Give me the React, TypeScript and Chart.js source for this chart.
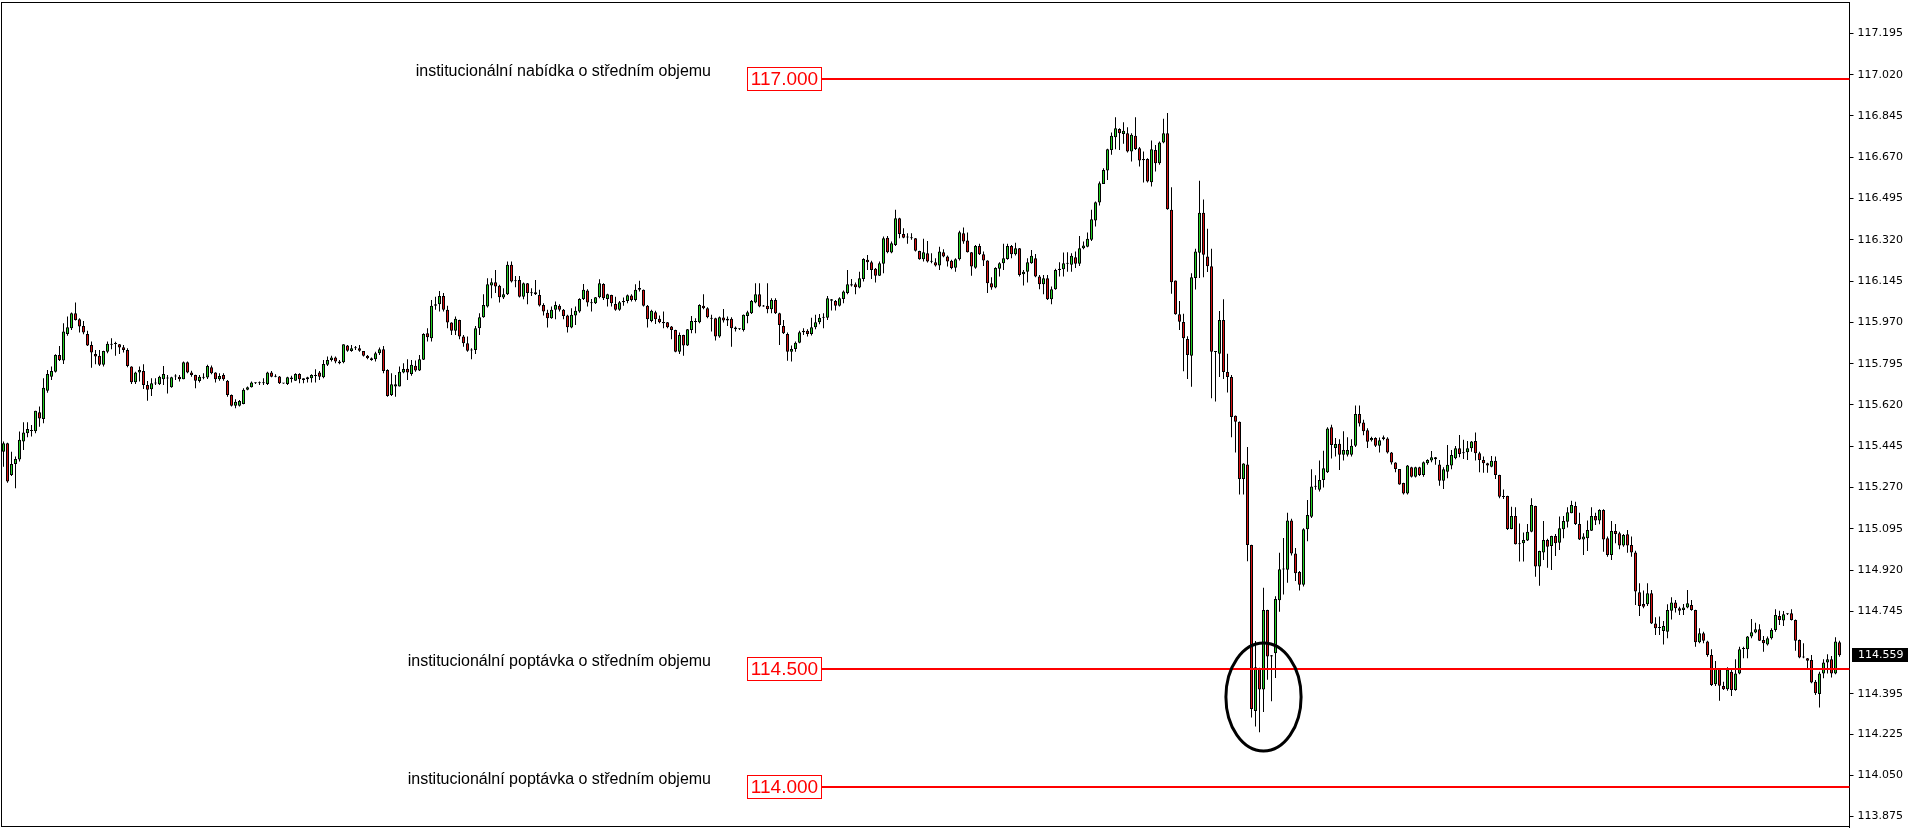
import React, { useEffect, useRef } from "react";
import { Chart, registerables } from "chart.js";

Chart.register(...registerables);

const OPEN = [
115.422,115.458,115.323,115.370,115.389,115.465,115.500,115.510,115.508,115.589,
115.560,115.680,115.740,115.761,115.832,115.808,115.921,115.945,116.009,115.983,
115.955,115.921,115.874,115.836,115.828,115.790,115.846,115.875,115.878,115.877,
115.865,115.853,115.783,115.716,115.758,115.764,115.705,115.687,115.711,115.708,
115.729,115.734,115.695,115.741,115.740,115.729,115.801,115.758,115.747,115.722,
115.735,115.736,115.780,115.758,115.729,115.747,115.723,115.662,115.617,115.617,
115.624,115.684,115.695,115.712,115.712,115.712,115.709,115.758,115.744,115.741,
115.712,115.709,115.730,115.723,115.751,115.733,115.729,115.733,115.743,115.757,
115.737,115.790,115.811,115.821,115.797,115.801,115.872,115.849,115.860,115.860,
115.849,115.829,115.818,115.814,115.839,115.856,115.768,115.662,115.698,115.698,
115.758,115.773,115.751,115.786,115.766,115.812,115.924,115.903,116.040,116.047,
116.082,116.023,115.969,115.935,115.980,115.910,115.881,115.851,115.853,115.945,
115.992,116.037,116.126,116.140,116.125,116.075,116.089,116.214,116.144,116.150,
116.079,116.136,116.098,116.098,116.086,116.044,116.011,115.987,116.023,116.040,
116.023,115.999,115.948,115.999,116.016,116.069,116.105,116.055,116.051,116.077,
116.133,116.069,116.086,116.048,116.023,116.055,116.061,116.084,116.065,116.108,
116.108,116.040,115.976,116.013,115.985,115.972,115.971,115.952,115.938,115.846,
115.917,115.872,115.938,115.975,115.971,116.040,116.030,115.990,115.987,115.910,
115.991,115.985,115.985,115.948,115.941,115.938,115.997,116.009,116.054,116.089,
116.040,116.040,116.026,116.065,116.009,115.955,115.921,115.846,115.857,115.884,
115.928,115.935,115.921,115.949,115.971,115.990,115.990,116.068,116.061,116.040,
116.069,116.094,116.132,116.132,116.118,116.154,116.235,116.225,116.197,116.168,
116.218,116.329,116.266,116.298,116.411,116.345,116.331,116.328,116.327,116.273,
116.238,116.263,116.229,116.225,116.211,116.267,116.249,116.231,116.202,116.238,
116.348,116.317,116.267,116.202,116.294,116.259,116.232,116.136,116.118,116.197,
116.221,116.239,116.294,116.259,116.284,116.174,116.185,116.221,116.242,116.164,
116.132,116.157,116.068,116.110,116.192,116.195,116.219,116.214,116.246,116.218,
116.284,116.291,116.320,116.402,116.478,116.557,116.614,116.701,116.755,116.790,
116.768,116.772,116.694,116.761,116.708,116.657,116.662,116.564,116.701,116.645,
116.732,116.772,116.447,116.147,116.004,115.972,115.900,115.829,116.158,116.265,
116.435,116.249,116.208,115.846,115.837,115.980,115.760,115.738,115.574,115.549,
115.306,115.368,115.026,114.323,114.505,114.414,114.751,114.559,114.567,114.792,
114.923,114.921,115.130,114.990,114.912,114.858,115.093,115.146,115.273,115.261,
115.302,115.335,115.525,115.437,115.455,115.409,115.409,115.409,115.447,115.582,
115.546,115.513,115.470,115.480,115.447,115.476,115.478,115.418,115.376,115.348,
115.289,115.245,115.356,115.316,115.356,115.323,115.373,115.384,115.398,115.368,
115.299,115.337,115.363,115.394,115.436,115.415,115.419,115.436,115.467,115.415,
115.387,115.373,115.358,115.383,115.323,115.232,115.234,115.094,115.149,115.030,
115.034,115.045,115.083,115.192,114.935,114.995,115.048,115.022,115.065,115.036,
115.093,115.125,115.161,115.192,115.115,115.050,115.055,115.087,115.149,115.130,
115.175,115.055,114.984,115.086,115.076,115.024,115.072,115.026,114.995,114.826,
114.776,114.775,114.822,114.694,114.677,114.662,114.659,114.748,114.783,114.758,
114.751,114.761,114.772,114.751,114.614,114.652,114.617,114.560,114.436,114.504,
114.429,114.415,114.489,114.412,114.482,114.586,114.584,114.638,114.655,114.669,
114.624,114.605,114.631,114.666,114.725,114.706,114.733,114.737,114.708,114.624,
114.551,114.546,114.539,114.447,114.395,114.482,114.528,114.542,114.482,114.614
];

const HIGH = [
115.465,115.460,115.422,115.401,115.507,115.547,115.547,115.535,115.595,115.613,
115.733,115.768,115.783,115.835,115.870,115.966,115.995,116.012,116.054,115.987,
115.976,115.934,115.889,115.853,115.853,115.850,115.889,115.903,115.888,115.878,
115.874,115.860,115.784,115.761,115.783,115.792,115.722,115.733,115.733,115.744,
115.785,115.747,115.740,115.750,115.747,115.804,115.804,115.765,115.748,115.747,
115.754,115.790,115.787,115.759,115.754,115.754,115.726,115.664,115.644,115.641,
115.691,115.698,115.719,115.716,115.719,115.733,115.761,115.764,115.750,115.743,
115.713,115.740,115.744,115.754,115.754,115.733,115.740,115.750,115.771,115.764,
115.811,115.825,115.828,115.825,115.811,115.877,115.874,115.874,115.870,115.874,
115.849,115.832,115.821,115.846,115.863,115.870,115.771,115.754,115.747,115.783,
115.797,115.814,115.811,115.808,115.832,115.924,115.945,116.065,116.079,116.103,
116.094,116.040,115.970,115.995,115.981,115.917,115.910,115.860,115.955,116.009,
116.089,116.157,116.157,116.192,116.129,116.115,116.228,116.228,116.167,116.167,
116.139,116.137,116.115,116.150,116.108,116.051,116.023,116.037,116.058,116.047,
116.027,116.002,116.030,116.037,116.072,116.133,116.110,116.069,116.078,116.153,
116.136,116.091,116.087,116.079,116.061,116.075,116.088,116.089,116.132,116.146,
116.109,116.044,116.023,116.019,115.999,116.016,115.972,115.955,115.939,115.927,
115.918,115.942,115.997,115.987,116.047,116.089,116.034,116.002,115.990,115.995,
116.027,115.995,115.992,115.952,115.945,116.003,116.019,116.065,116.136,116.136,
116.044,116.136,116.072,116.072,116.011,115.980,115.927,115.872,115.889,115.934,
115.945,115.941,115.990,116.002,116.006,116.009,116.082,116.069,116.065,116.077,
116.105,116.192,116.154,116.139,116.185,116.242,116.256,116.231,116.200,116.228,
116.334,116.336,116.313,116.447,116.414,116.369,116.348,116.348,116.328,116.274,
116.324,116.315,116.263,116.242,116.291,116.280,116.253,116.235,116.242,116.358,
116.372,116.351,116.268,116.298,116.303,116.270,116.233,116.161,116.204,116.225,
116.303,116.303,116.298,116.308,116.285,116.192,116.242,116.277,116.260,116.171,
116.171,116.171,116.122,116.197,116.225,116.266,116.267,116.263,116.270,116.336,
116.313,116.351,116.447,116.482,116.567,116.623,116.706,116.775,116.840,116.793,
116.818,116.797,116.772,116.840,116.713,116.694,116.666,116.741,116.722,116.737,
116.833,116.857,116.543,116.148,116.061,116.007,115.911,116.178,116.282,116.570,
116.491,116.367,116.282,115.848,116.018,116.068,115.837,115.747,115.575,115.550,
115.373,115.442,115.027,114.619,114.506,114.845,114.752,114.560,114.809,114.993,
115.056,115.163,115.138,115.014,114.916,115.097,115.217,115.347,115.322,115.385,
115.426,115.525,115.536,115.480,115.475,115.508,115.483,115.475,115.618,115.618,
115.557,115.521,115.485,115.483,115.482,115.490,115.483,115.421,115.377,115.349,
115.290,115.365,115.358,115.358,115.358,115.380,115.390,115.425,115.399,115.387,
115.356,115.450,115.429,115.446,115.493,115.472,115.467,115.467,115.503,115.422,
115.401,115.375,115.404,115.401,115.324,115.262,115.235,115.189,115.186,115.118,
115.079,115.115,115.224,115.193,115.002,115.128,115.053,115.066,115.073,115.147,
115.149,115.186,115.214,115.210,115.163,115.076,115.130,115.186,115.163,115.178,
115.178,115.062,115.128,115.115,115.083,115.073,115.090,115.062,115.002,114.864,
114.833,114.864,114.836,114.720,114.723,114.704,114.775,114.805,114.793,114.765,
114.776,114.836,114.793,114.752,114.673,114.659,114.621,114.584,114.535,114.505,
114.447,114.508,114.504,114.542,114.595,114.595,114.641,114.713,114.697,114.690,
114.641,114.638,114.673,114.754,114.748,114.747,114.737,114.754,114.711,114.626,
114.610,114.547,114.560,114.454,114.489,114.542,114.563,114.556,114.635,114.621
];

const LOW = [
115.358,115.290,115.319,115.267,115.380,115.429,115.483,115.486,115.500,115.528,
115.542,115.672,115.726,115.757,115.806,115.794,115.913,115.938,115.978,115.927,
115.920,115.870,115.778,115.792,115.785,115.783,115.839,115.856,115.828,115.836,
115.842,115.780,115.709,115.709,115.719,115.688,115.638,115.658,115.705,115.705,
115.705,115.669,115.693,115.726,115.719,115.729,115.754,115.740,115.691,115.715,
115.729,115.730,115.750,115.715,115.723,115.723,115.655,115.613,115.606,115.613,
115.623,115.682,115.694,115.709,115.705,115.705,115.705,115.737,115.737,115.709,
115.710,115.705,115.715,115.722,115.712,115.712,115.715,115.715,115.715,115.726,
115.733,115.785,115.804,115.797,115.793,115.797,115.846,115.846,115.853,115.846,
115.825,115.814,115.807,115.804,115.832,115.754,115.655,115.658,115.655,115.698,
115.754,115.726,115.744,115.761,115.764,115.811,115.889,115.889,116.023,116.016,
116.016,115.945,115.917,115.917,115.898,115.867,115.846,115.814,115.836,115.917,
115.990,116.033,116.072,116.094,116.054,116.069,116.086,116.139,116.119,116.075,
116.068,116.047,116.082,116.086,116.037,115.999,115.948,115.985,115.983,116.016,
115.983,115.927,115.945,115.959,116.011,116.065,116.037,116.016,116.048,116.072,
116.065,116.037,116.037,116.019,116.019,116.040,116.051,116.058,116.058,116.101,
116.037,115.948,115.971,115.963,115.966,115.945,115.945,115.898,115.843,115.836,
115.829,115.870,115.924,115.924,115.966,116.026,115.987,115.931,115.893,115.905,
115.969,115.955,115.867,115.931,115.938,115.931,115.966,116.006,116.051,116.034,
116.036,116.009,116.009,116.006,115.874,115.921,115.807,115.804,115.846,115.881,
115.917,115.910,115.914,115.941,115.962,115.945,115.980,116.020,116.020,116.037,
116.051,116.089,116.122,116.089,116.115,116.143,116.192,116.154,116.139,116.167,
116.178,116.263,116.263,116.294,116.327,116.327,116.303,116.320,116.270,116.235,
116.228,116.224,116.221,116.207,116.192,116.246,116.207,116.195,116.185,116.232,
116.303,116.266,116.168,116.197,116.256,116.209,116.094,116.108,116.115,116.164,
116.192,116.235,116.242,116.253,116.164,116.126,116.139,116.218,116.161,116.110,
116.089,116.065,116.047,116.108,116.164,116.164,116.185,116.185,116.200,116.209,
116.280,116.288,116.315,116.376,116.465,116.557,116.574,116.680,116.704,116.701,
116.727,116.690,116.652,116.701,116.631,116.563,116.563,116.546,116.609,116.638,
116.729,116.447,116.091,116.002,115.938,115.763,115.730,115.697,116.109,116.158,
116.161,116.183,115.648,115.635,115.738,115.730,115.673,115.483,115.418,115.240,
115.240,114.957,114.295,114.257,114.233,114.318,114.455,114.364,114.463,114.743,
114.817,114.866,114.982,114.874,114.833,114.850,115.042,115.141,115.261,115.253,
115.270,115.332,115.393,115.401,115.344,115.385,115.401,115.401,115.442,115.529,
115.492,115.437,115.465,115.442,115.418,115.470,115.414,115.368,115.335,115.282,
115.240,115.240,115.312,115.312,115.319,115.316,115.366,115.377,115.366,115.277,
115.264,115.309,115.347,115.390,115.398,115.391,115.387,115.422,115.384,115.335,
115.333,115.333,115.356,115.306,115.224,115.221,115.090,115.093,115.028,114.956,
114.956,115.043,115.080,114.892,114.854,114.963,114.930,114.920,114.980,115.005,
115.055,115.100,115.161,115.111,115.048,114.984,115.001,115.086,115.111,115.114,
114.998,114.977,114.963,115.034,115.008,115.019,114.994,114.977,114.772,114.725,
114.758,114.768,114.692,114.645,114.645,114.605,114.631,114.711,114.740,114.730,
114.730,114.758,114.748,114.595,114.610,114.610,114.553,114.429,114.429,114.366,
114.412,114.409,114.386,114.409,114.478,114.546,114.546,114.631,114.652,114.619,
114.574,114.600,114.626,114.659,114.687,114.683,114.730,114.706,114.578,114.546,
114.546,114.504,114.440,114.390,114.338,114.461,114.482,114.465,114.478,114.553
];

const CLOSE = [
115.458,115.295,115.370,115.391,115.472,115.503,115.518,115.514,115.595,115.563,
115.693,115.751,115.764,115.832,115.811,115.931,115.949,116.009,115.980,115.952,
115.927,115.872,115.842,115.825,115.790,115.849,115.879,115.879,115.879,115.863,
115.853,115.785,115.716,115.758,115.768,115.705,115.684,115.712,115.713,115.740,
115.751,115.732,115.737,115.744,115.729,115.801,115.758,115.747,115.723,115.740,
115.736,115.785,115.754,115.729,115.743,115.729,115.662,115.617,115.634,115.637,
115.684,115.695,115.715,115.713,115.713,115.713,115.758,115.740,115.740,115.712,
115.711,115.737,115.736,115.751,115.729,115.726,115.737,115.747,115.744,115.740,
115.794,115.811,115.821,115.804,115.804,115.877,115.850,115.860,115.861,115.850,
115.829,115.818,115.811,115.839,115.856,115.764,115.658,115.708,115.708,115.761,
115.772,115.757,115.790,115.766,115.814,115.921,115.907,116.040,116.047,116.082,
116.023,115.969,115.935,115.985,115.910,115.881,115.850,115.853,115.945,115.992,
116.044,116.132,116.140,116.122,116.077,116.089,116.214,116.143,116.148,116.079,
116.136,116.094,116.093,116.089,116.041,116.016,115.987,116.023,116.044,116.023,
115.997,115.949,116.002,116.019,116.069,116.108,116.054,116.051,116.077,116.136,
116.072,116.089,116.051,116.023,116.055,116.061,116.085,116.065,116.108,116.116,
116.040,115.983,116.019,115.983,115.971,115.966,115.949,115.938,115.846,115.917,
115.872,115.941,115.976,115.972,116.044,116.030,115.992,115.985,115.910,115.992,
115.978,115.978,115.945,115.941,115.942,116.002,116.013,116.061,116.089,116.037,
116.037,116.026,116.065,116.009,115.959,115.924,115.846,115.857,115.884,115.928,
115.935,115.921,115.949,115.971,115.990,115.992,116.072,116.062,116.040,116.072,
116.101,116.132,116.126,116.119,116.157,116.239,116.225,116.192,116.168,116.221,
116.327,116.267,116.305,116.411,116.345,116.329,116.330,116.327,116.274,116.238,
116.267,116.228,116.227,116.211,116.270,116.249,116.228,116.200,116.238,116.352,
116.313,116.267,116.207,116.294,116.259,116.232,116.136,116.118,116.200,116.221,
116.242,116.294,116.259,116.284,116.171,116.185,116.225,116.252,116.164,116.132,
116.157,116.068,116.110,116.192,116.197,116.221,116.218,116.252,116.218,116.284,
116.296,116.324,116.407,116.479,116.560,116.616,116.704,116.761,116.793,116.772,
116.782,116.694,116.765,116.705,116.656,116.662,116.567,116.704,116.645,116.732,
116.772,116.450,116.140,116.004,115.973,115.903,115.832,116.161,116.270,116.435,
116.257,116.208,115.845,115.844,115.980,115.760,115.738,115.569,115.549,115.306,
115.372,115.026,114.331,114.508,114.414,114.751,114.554,114.554,114.797,114.924,
114.925,115.130,114.990,114.907,114.858,115.093,115.154,115.274,115.275,115.302,
115.352,115.520,115.450,115.454,115.409,115.429,115.429,115.447,115.582,115.541,
115.508,115.464,115.480,115.447,115.470,115.483,115.418,115.376,115.348,115.283,
115.245,115.363,115.316,115.356,115.323,115.377,115.387,115.398,115.390,115.299,
115.347,115.366,115.408,115.436,115.412,115.419,115.436,115.465,115.415,115.387,
115.373,115.363,115.383,115.323,115.231,115.230,115.094,115.149,115.029,115.032,
115.048,115.083,115.196,114.935,115.001,115.048,115.019,115.065,115.034,115.097,
115.128,115.165,115.196,115.115,115.050,115.062,115.090,115.149,115.130,115.175,
115.050,114.984,115.086,115.073,115.024,115.069,115.024,114.995,114.829,114.768,
114.765,114.822,114.694,114.673,114.675,114.683,114.751,114.783,114.758,114.748,
114.761,114.779,114.751,114.614,114.652,114.621,114.560,114.433,114.504,114.430,
114.415,114.499,114.412,114.482,114.584,114.588,114.638,114.656,114.669,114.621,
114.610,114.631,114.666,114.730,114.708,114.733,114.735,114.708,114.621,114.550,
114.549,114.536,114.444,114.398,114.482,114.528,114.542,114.482,114.617,114.559
];

// two empty bar slots on the right (chart shift)
const EMPTY_SLOTS = 2;

const Y_MIN = 113.831;
const Y_MAX = 117.328;
const Y_TICKS = [
  113.875, 114.05, 114.225, 114.395, 114.745, 114.92, 115.095, 115.27, 115.445,
  115.62, 115.795, 115.97, 116.145, 116.32, 116.495, 116.67, 116.845, 117.02, 117.195,
];

const LEVELS = [117.0, 114.5, 114.0];
const LEVEL_TEXT = [
  "institucionální nabídka o středním objemu",
  "institucionální poptávka o středním objemu",
  "institucionální poptávka o středním objemu",
];

// circled area: centre bar index / price and half extents
const MARK_INDEX = 315;
const MARK_PRICE = 114.382;
const MARK_HALF_BARS = 9.4;
const MARK_HALF_PRICE = 0.229;

const GREEN = "#22d022";
const RED = "#d81010";

const overlay = {
  id: "overlay",
  afterDraw(chart: any) {
    const { ctx, chartArea: a, scales } = chart;
    const xs = scales.x;
    const ys = scales.y;
    ctx.save();

    // frame
    ctx.strokeStyle = "#000";
    ctx.lineWidth = 1;
    ctx.strokeRect(a.left, a.top + 0.5, a.right - a.left, a.bottom - a.top - 1);

    // level lines, boxes, texts
    const boxLeft = 747;
    const boxW = 75;
    const boxRight = boxLeft + boxW;
    LEVELS.forEach((lv, k) => {
      const py = Math.round(ys.getPixelForValue(lv));
      ctx.fillStyle = "#ff0000";
      ctx.fillRect(boxRight, py - 1, a.right - boxRight, 2);
      ctx.strokeStyle = "#ff0000";
      ctx.lineWidth = 1;
      ctx.strokeRect(boxLeft + 0.5, py - 11.5, boxW - 1, 23);
      ctx.font = '19px "Liberation Sans"';
      ctx.textAlign = "center";
      ctx.textBaseline = "middle";
      ctx.fillText(lv.toFixed(3), boxLeft + boxW / 2, py + 1);
      ctx.fillStyle = "#000";
      ctx.font = '16px "Liberation Sans"';
      ctx.textAlign = "right";
      ctx.textBaseline = "alphabetic";
      ctx.fillText(LEVEL_TEXT[k], 711, py - 3);
    });

    // ellipse
    const cx = xs.getPixelForValue(MARK_INDEX);
    const cy = ys.getPixelForValue(MARK_PRICE);
    const rx = Math.abs(xs.getPixelForValue(MARK_INDEX + MARK_HALF_BARS) - cx);
    const ry = Math.abs(ys.getPixelForValue(MARK_PRICE + MARK_HALF_PRICE) - cy);
    ctx.beginPath();
    ctx.ellipse(cx, cy, rx, ry, 0, 0, Math.PI * 2);
    ctx.strokeStyle = "#000";
    ctx.lineWidth = 3;
    ctx.stroke();

    // last price label on axis
    const last = CLOSE[CLOSE.length - 1];
    const lp = Math.round(ys.getPixelForValue(last));
    ctx.fillStyle = "#000";
    ctx.fillRect(a.right + 2.5, lp - 7, chart.width - a.right, 14);
    ctx.fillStyle = "#fff";
    ctx.font = '11px "DejaVu Sans"';
    ctx.textAlign = "left";
    ctx.textBaseline = "middle";
    ctx.fillText(last.toFixed(3), a.right + 8.5, lp + 0.5);

    ctx.restore();
  },
};

export default function App() {
  const ref = useRef<HTMLCanvasElement | null>(null);

  useEffect(() => {
    if (!ref.current) return;
    const labels = OPEN.map((_, i) => String(i));
    for (let k = 0; k < EMPTY_SLOTS; k++) labels.push("");
    const body = OPEN.map((o, i) => [o, CLOSE[i]]);
    const wick = LOW.map((l, i) => [l, HIGH[i]]);
    const colors = OPEN.map((o, i) => (CLOSE[i] >= o ? GREEN : RED));

    const chart = new Chart(ref.current, {
      type: "bar",
      data: {
        labels,
        datasets: [
          {
            data: body as any,
            backgroundColor: colors,
            borderColor: "#000",
            borderWidth: 1,
            borderSkipped: false,
            barThickness: 3,
            minBarLength: 1,
            grouped: false,
            inflateAmount: 0,
            order: 1,
          } as any,
          {
            data: wick as any,
            backgroundColor: "#000",
            borderWidth: 0,
            barThickness: 1,
            grouped: false,
            inflateAmount: 0,
            order: 2,
          } as any,
        ],
      },
      options: {
        animation: false,
        responsive: false,
        maintainAspectRatio: false,
        devicePixelRatio: 1,
        events: [],
        layout: { padding: { left: 1.5, top: 2, bottom: 2, right: 0 } },
        plugins: { legend: { display: false }, tooltip: { enabled: false } },
        scales: {
          x: { type: "category", display: false, offset: true },
          y: {
            type: "linear",
            position: "right",
            min: Y_MIN,
            max: Y_MAX,
            border: { display: true, color: "#000", width: 1 },
            grid: { display: true, drawOnChartArea: false, drawTicks: true, tickLength: 4, color: "#000" },
            ticks: {
              color: "#000",
              font: { family: "DejaVu Sans", size: 11 },
              padding: 4,
              autoSkip: false,
              callback: (v: any) => Number(v).toFixed(3),
            },
            afterBuildTicks: (s: any) => {
              s.ticks = Y_TICKS.map((v) => ({ value: v }));
            },
            afterFit: (s: any) => {
              s.width = 58.5;
              s.paddingTop = 0;
              s.paddingBottom = 0;
            },
          } as any,
        },
      },
      plugins: [overlay],
    });
    return () => chart.destroy();
  }, []);

  return (
    <div style={{ position: "fixed", left: 0, top: 0, width: 1908, height: 829, background: "#fff" }}>
      <canvas ref={ref} width={1908} height={829} style={{ display: "block" }} />
    </div>
  );
}
